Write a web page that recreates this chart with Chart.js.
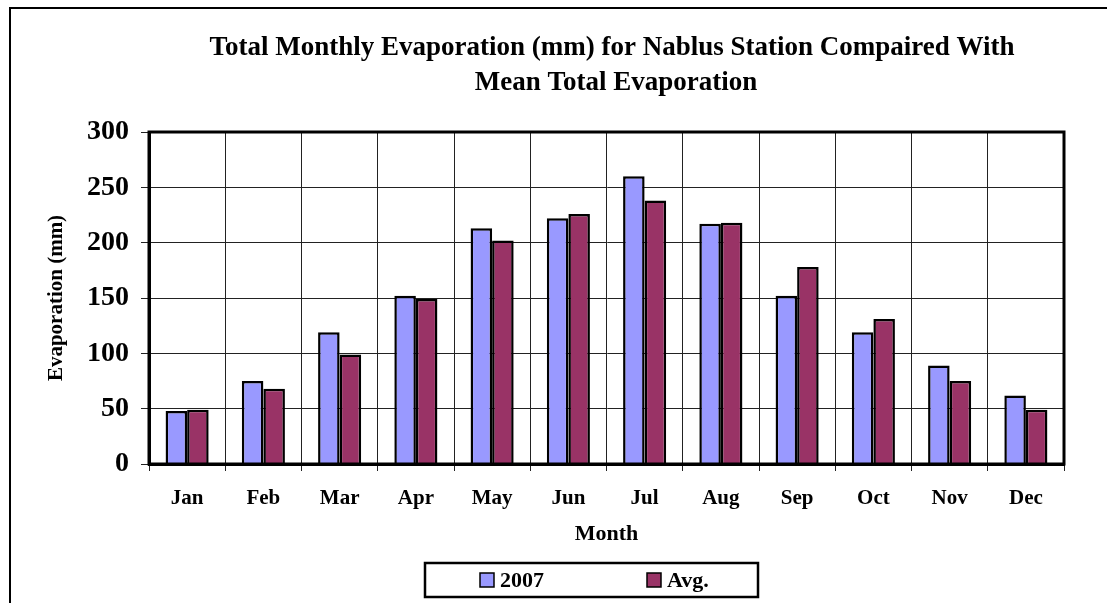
<!DOCTYPE html>
<html>
<head>
<meta charset="utf-8">
<script src="https://cdn.jsdelivr.net/npm/chart.js@4.4.1/dist/chart.umd.min.js"></script>
<style>
  html, body { margin: 0; padding: 0; background: #fff; overflow: hidden; }
  #wrap { position: relative; width: 1107px; height: 603px; }
</style>
</head>
<body>
<div id="wrap"><canvas id="EvapCanvas" width="1107" height="603"></canvas></div>
<script>
// ── Data ─────────────────────────────────────────────────────────────────────
const months     = ['Jan', 'Feb', 'Mar', 'Apr', 'May', 'Jun', 'Jul', 'Aug', 'Sep', 'Oct', 'Nov', 'Dec'];
const evap2007   = [48, 75, 119, 152, 213, 222, 260, 217, 152, 119, 89, 62];
const evapAvg    = [49, 68, 99, 149, 202, 226, 238, 218, 178, 131, 75, 49];
const seriesNames = ['2007', 'Avg.'];
const titleLines = ['Total Monthly Evaporation (mm) for Nablus Station Compaired With', 'Mean Total Evaporation'];
const yMin = 0, yMax = 300, yStep = 50;

const SERIF = '"Liberation Serif", "Times New Roman", serif';

// ── Plugins: outer frame, title, plot border, legend box ────────────────────
const framePlugin = {
  id: 'frame',
  beforeDraw(chart) {
    const ctx = chart.ctx;
    ctx.save();
    ctx.strokeStyle = '#000';
    ctx.lineWidth = 2;
    ctx.beginPath();
    ctx.moveTo(10, chart.height);
    ctx.lineTo(10, 8);
    ctx.lineTo(chart.width, 8);
    ctx.stroke();
    ctx.restore();
  }
};

const titlePlugin = {
  id: 'evapTitle',
  afterDraw(chart) {
    const ctx = chart.ctx;
    ctx.save();
    ctx.fillStyle = '#000';
    ctx.font = `bold 27px ${SERIF}`;
    ctx.textAlign = 'center';
    ctx.textBaseline = 'middle';
    ctx.fillText(titleLines[0], 612, 48);
    ctx.fillText(titleLines[1], 616, 83);
    ctx.restore();
  }
};

const plotBorderPlugin = {
  id: 'plotBorder',
  afterDatasetsDraw(chart) {
    const { left, top, right, bottom } = chart.chartArea;
    const ctx = chart.ctx;
    ctx.save();
    ctx.strokeStyle = '#000';
    ctx.lineWidth = 3;
    ctx.strokeRect(left, top, right - left, bottom - top);
    ctx.restore();
  }
};

const legendBoxPlugin = {
  id: 'legendBox',
  afterDraw(chart) {
    const ctx = chart.ctx;
    const box = { x: 425, y: 563, w: 333, h: 34 };
    ctx.save();
    ctx.strokeStyle = '#000';
    ctx.lineWidth = 2.5;
    ctx.fillStyle = '#fff';
    ctx.fillRect(box.x, box.y, box.w, box.h);
    ctx.strokeRect(box.x, box.y, box.w, box.h);
    const itemX = [480, 647];
    const cy = box.y + box.h / 2;
    chart.data.datasets.forEach((ds, i) => {
      ctx.fillStyle = ds.backgroundColor;
      ctx.fillRect(itemX[i], cy - 7, 14, 14);
      ctx.lineWidth = 1.5;
      ctx.strokeStyle = '#000';
      ctx.strokeRect(itemX[i], cy - 7, 14, 14);
      ctx.fillStyle = '#000';
      ctx.font = `bold 22px ${SERIF}`;
      ctx.textAlign = 'left';
      ctx.textBaseline = 'middle';
      ctx.fillText(ds.label, itemX[i] + 20, cy + 1);
    });
    ctx.restore();
  }
};

// ── Chart ────────────────────────────────────────────────────────────────────
const ctx = document.getElementById('EvapCanvas').getContext('2d');
new Chart(ctx, {
  type: 'bar',
  data: {
    labels: months,
    datasets: [
      { label: seriesNames[0], data: evap2007, backgroundColor: '#9999FF', borderColor: '#000', borderWidth: 2.5 },
      { label: seriesNames[1], data: evapAvg,  backgroundColor: '#993366', borderColor: '#000', borderWidth: 2.5 },
    ],
  },
  options: {
    responsive: false,
    animation: false,
    devicePixelRatio: 1,
    categoryPercentage: 0.565,
    barPercentage: 1.0,
    layout: { padding: { left: 0, right: 43, top: 132, bottom: 48 } },
    plugins: {
      legend: { display: false },
      tooltip: { enabled: false },
      title: { display: false },
    },
    scales: {
      x: {
        offset: true,
        grid: { color: '#222', lineWidth: 1, offset: true, tickLength: 7 },
        border: { color: '#000', width: 3 },
        ticks: { color: '#000', padding: 15, font: { family: SERIF, size: 21, weight: 'bold' } },
        title: { display: true, text: 'Month', color: '#000', padding: { top: 0, bottom: 7 },
                 font: { family: SERIF, size: 22, weight: 'bold' } },
        afterFit: s => { s.height = 91; },
      },
      y: {
        min: yMin, max: yMax,
        ticks: { stepSize: yStep, color: '#000', padding: 12, font: { family: SERIF, size: 28, weight: 'bold' } },
        grid: { color: '#222', lineWidth: 1, tickLength: 8 },
        border: { color: '#000', width: 3 },
        title: { display: true, text: 'Evaporation (mm)', color: '#000', padding: { top: 44, bottom: 0 },
                 font: { family: SERIF, size: 21, weight: 'bold' } },
        afterFit: s => { s.width = 149; },
      },
    },
  },
  plugins: [framePlugin, plotBorderPlugin, titlePlugin, legendBoxPlugin],
});
</script>
</body>
</html>
